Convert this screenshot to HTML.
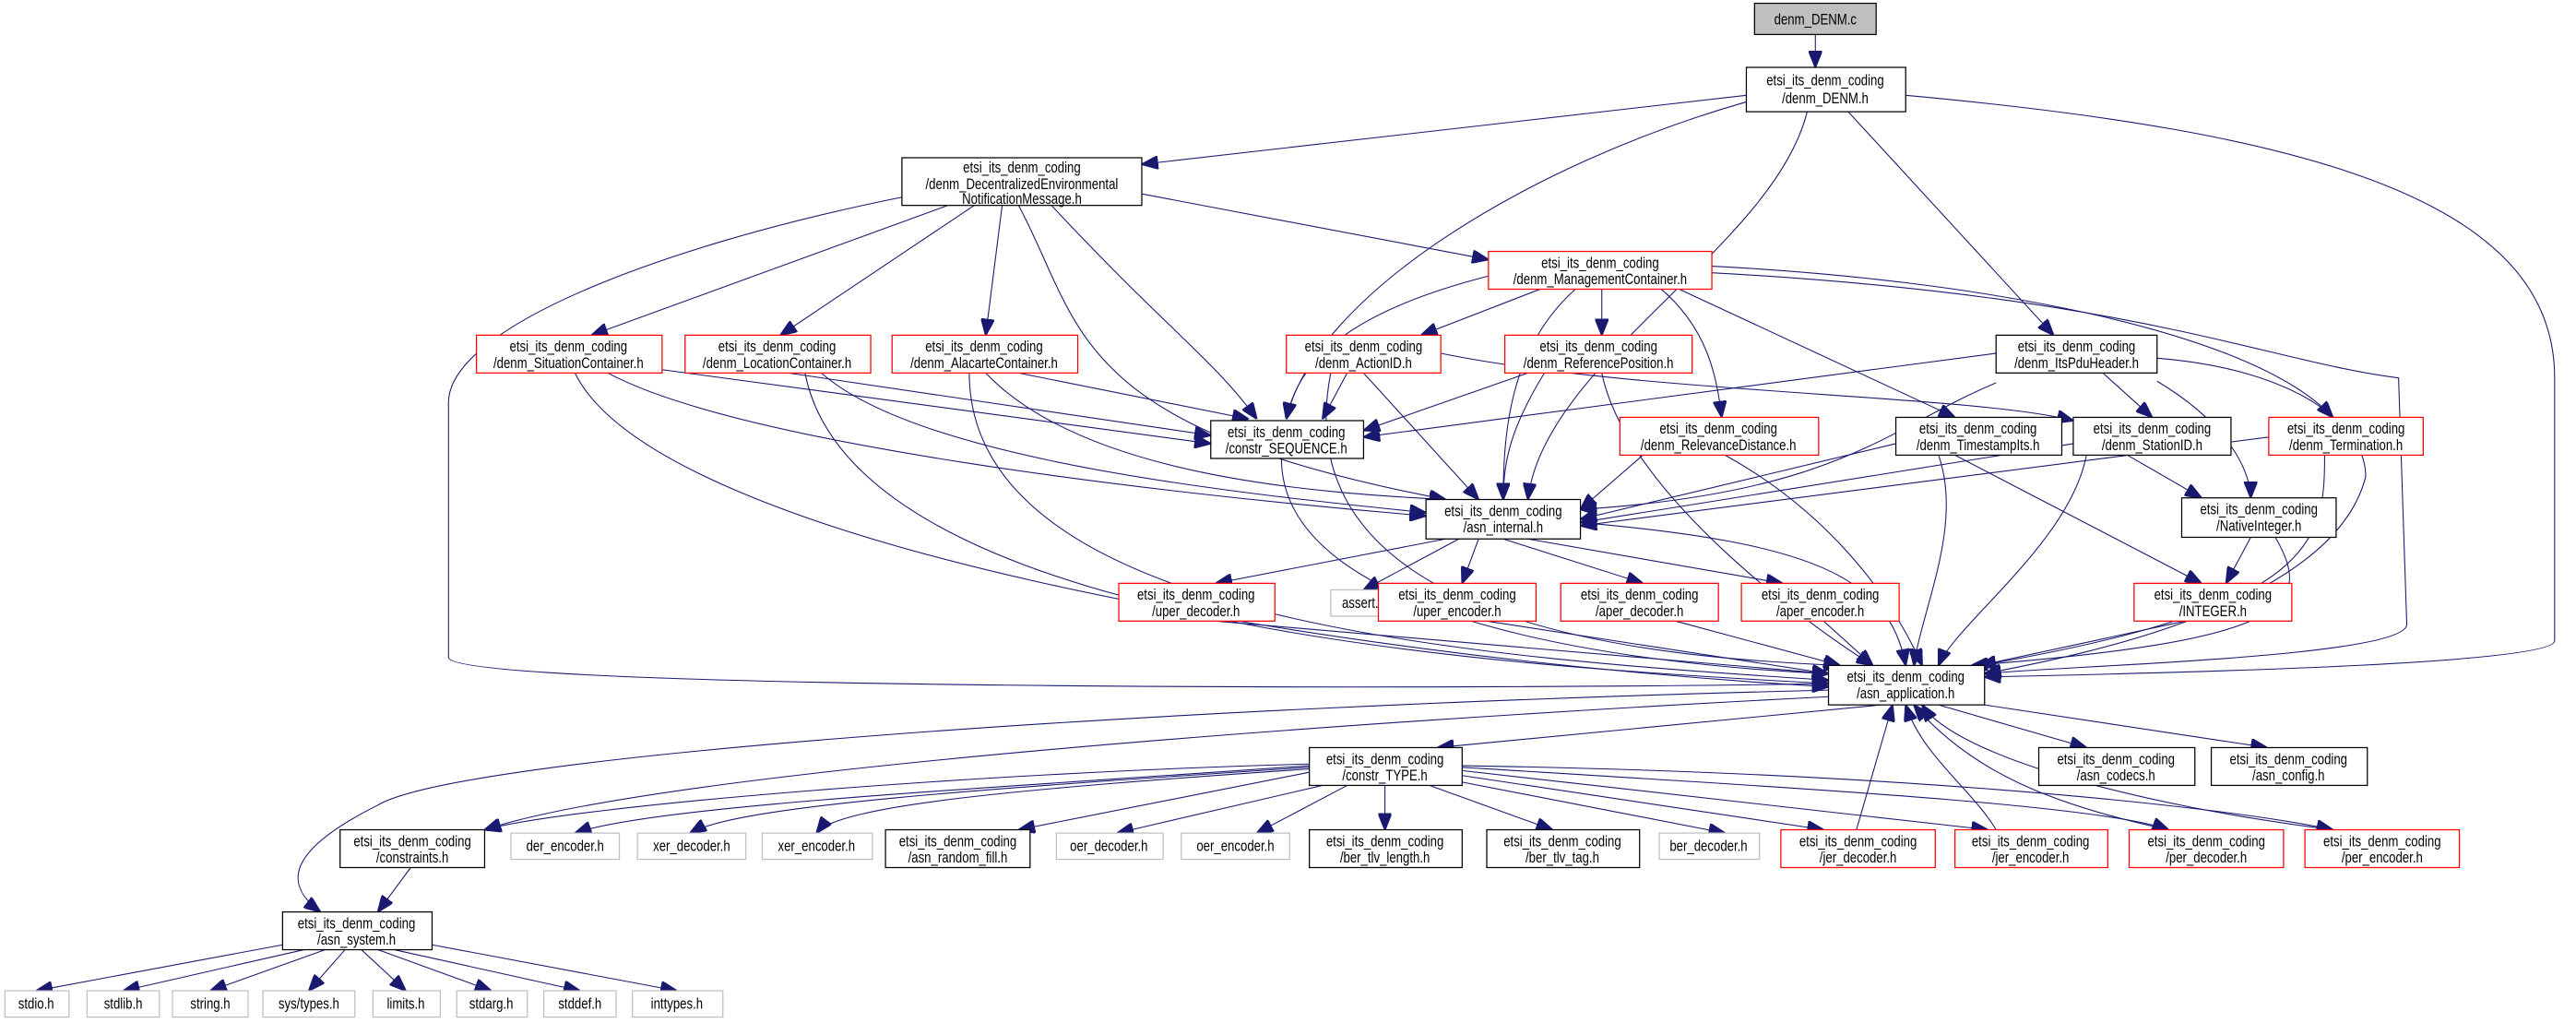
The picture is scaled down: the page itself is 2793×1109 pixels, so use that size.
<!DOCTYPE html>
<html><head><meta charset="utf-8"><style>
html,body{margin:0;padding:0;background:#fff;}
svg{display:block}
text{font-family:"Liberation Sans",sans-serif;font-size:9.5px;fill:#000;text-anchor:middle;transform-box:fill-box;transform-origin:center;transform:scaleX(.78)}
.n{fill:#fff;stroke:#000;stroke-width:.7}
.r{fill:#fff;stroke:#ff0000;stroke-width:.7}
.g{fill:#fff;stroke:#bfbfbf;stroke-width:.7}
.e path{fill:none;stroke:#191970;stroke-width:.6;marker-end:url(#a)}
</style></head><body>
<svg width="2793" height="1109" viewBox="0 0 1568 622.6" xmlns="http://www.w3.org/2000/svg">
<defs><marker id="a" viewBox="0 0 10 8" refX="10" refY="4" markerWidth="10" markerHeight="8" markerUnits="userSpaceOnUse" orient="auto"><path d="M0,0L10,4L0,8z" fill="#191970" stroke="#191970"/></marker></defs>
<g class="e">
<path d="M1105,21L1105,41"/>
<path d="M1063,58L695,100"/>
<path d="M1063,62C930,100 800,180 783,255"/>
<path d="M1100,68C1080,150 940,220 930,304"/>
<path d="M1125,68L1250,204"/>
<path d="M1160,58C1400,80 1555,120 1555,230L1555,390C1555,405 1300,410 1208,412"/>
<path d="M577,125L360,204"/>
<path d="M593,125L475,204"/>
<path d="M610,125L600,204"/>
<path d="M640,125C710,200 740,220 765,255"/>
<path d="M620,125C660,200 650,260 880,304"/>
<path d="M695,118L906,158"/>
<path d="M549,120C400,150 273,200 273,245L273,400C273,420 900,420 1113,416"/>
<path d="M906,168C820,190 790,220 783,255"/>
<path d="M940,175L865,204"/>
<path d="M975,175L975,204"/>
<path d="M960,175C920,210 915,260 915,304"/>
<path d="M1010,175C1040,200 1045,230 1048,254"/>
<path d="M1020,175L1190,254"/>
<path d="M1042,162C1200,170 1370,200 1420,254"/>
<path d="M1042,166C1300,180 1380,220 1460,230L1465,380C1465,400 1260,405 1208,410"/>
<path d="M403,225L737,270"/>
<path d="M370,227C450,270 700,300 868,314"/>
<path d="M350,227C400,330 800,400 1113,418"/>
<path d="M480,227L737,265"/>
<path d="M500,227C560,280 750,300 868,312"/>
<path d="M490,227C520,380 900,405 1113,416"/>
<path d="M620,227L760,255"/>
<path d="M600,227C660,290 800,300 880,304"/>
<path d="M590,227C590,380 900,400 1113,414"/>
<path d="M820,227L805,255"/>
<path d="M830,227L900,304"/>
<path d="M810,227C780,380 1000,400 1120,405"/>
<path d="M877,215C1000,240 1200,240 1262,256"/>
<path d="M930,227L830,262"/>
<path d="M940,227C920,260 915,280 915,304"/>
<path d="M975,227C990,300 1100,380 1140,405"/>
<path d="M1215,215L830,266"/>
<path d="M1215,233C1150,260 1120,300 962,310"/>
<path d="M1280,227L1310,254"/>
<path d="M1313,232C1360,260 1370,290 1370,303"/>
<path d="M1313,218C1400,225 1440,260 1440,290C1420,370 1260,400 1208,410"/>
<path d="M1000,277L962,310"/>
<path d="M1050,277C1110,310 1150,360 1170,405"/>
<path d="M1154,270L962,316"/>
<path d="M1190,277L1340,355"/>
<path d="M1180,277C1195,320 1170,370 1165,405"/>
<path d="M1262,270L962,318"/>
<path d="M1295,277L1340,303"/>
<path d="M1270,277C1260,330 1190,380 1180,405"/>
<path d="M1381,266L962,320"/>
<path d="M1415,277C1415,330 1410,370 1205,405"/>
<path d="M780,279C780,380 1000,405 1113,410"/>
<path d="M880,328L740,355"/>
<path d="M888,328L830,359"/>
<path d="M900,328L890,355"/>
<path d="M915,328L1000,355"/>
<path d="M930,328L1085,355"/>
<path d="M962,318C1100,330 1150,350 1160,405"/>
<path d="M1370,327L1355,355"/>
<path d="M1385,327C1410,370 1390,390 1200,405"/>
<path d="M1330,378L1205,405"/>
<path d="M740,378L1113,410"/>
<path d="M905,378L1113,410"/>
<path d="M1020,378L1120,405"/>
<path d="M1110,378L1140,405"/>
<path d="M1145,429L875,455"/>
<path d="M1180,429L1270,455"/>
<path d="M1208,429L1380,455"/>
<path d="M1113,424C800,440 400,470 295,505"/>
<path d="M1113,420C700,430 280,460 230,490C170,520 175,540 195,555"/>
<path d="M1130,505L1152,429"/>
<path d="M1215,505C1200,480 1170,460 1160,429"/>
<path d="M1320,505C1250,490 1200,470 1165,429"/>
<path d="M1420,505C1300,490 1190,460 1170,429"/>
<path d="M797,465C600,470 350,490 295,505"/>
<path d="M797,466C600,480 400,490 350,507"/>
<path d="M797,467C600,480 450,490 420,507"/>
<path d="M797,468C620,480 510,490 497,507"/>
<path d="M797,470L620,505"/>
<path d="M805,478L680,507"/>
<path d="M820,478L765,507"/>
<path d="M843,478L843,505"/>
<path d="M870,478L945,505"/>
<path d="M890,476L1050,507"/>
<path d="M890,472L1110,505"/>
<path d="M890,469L1210,505"/>
<path d="M890,467C1100,480 1280,490 1320,505"/>
<path d="M890,466C1150,470 1350,490 1420,505"/>
<path d="M250,528L230,555"/>
<path d="M172,575L22,603"/>
<path d="M185,578L75,603"/>
<path d="M198,578L128,603"/>
<path d="M210,578L188,603"/>
<path d="M220,578L247,603"/>
<path d="M230,578L299,603"/>
<path d="M240,578L353,603"/>
<path d="M263,575L412,603"/>
</g>
<g>
<rect x="1068" y="2" width="74" height="19" fill="#bfbfbf" stroke="#000" stroke-width=".7"/><text x="1105" y="15">denm_DENM.c</text>
<rect class="n" x="1063" y="41" width="97" height="27"/><text x="1111" y="52">etsi_its_denm_coding</text><text x="1111" y="63">/denm_DENM.h</text>
<rect class="n" x="549" y="96" width="146" height="29"/><text x="622" y="105">etsi_its_denm_coding</text><text x="622" y="115">/denm_DecentralizedEnvironmental</text><text x="622" y="124">NotificationMessage.h</text>
<rect class="r" x="906" y="153" width="136" height="23"/><text x="974" y="163">etsi_its_denm_coding</text><text x="974" y="173">/denm_ManagementContainer.h</text>
<rect class="r" x="290" y="204" width="113" height="23"/><text x="346" y="214">etsi_its_denm_coding</text><text x="346" y="224">/denm_SituationContainer.h</text>
<rect class="r" x="417" y="204" width="113" height="23"/><text x="473" y="214">etsi_its_denm_coding</text><text x="473" y="224">/denm_LocationContainer.h</text>
<rect class="r" x="543" y="204" width="113" height="23"/><text x="599" y="214">etsi_its_denm_coding</text><text x="599" y="224">/denm_AlacarteContainer.h</text>
<rect class="r" x="783" y="204" width="94" height="23"/><text x="830" y="214">etsi_its_denm_coding</text><text x="830" y="224">/denm_ActionID.h</text>
<rect class="r" x="916" y="204" width="114" height="23"/><text x="973" y="214">etsi_its_denm_coding</text><text x="973" y="224">/denm_ReferencePosition.h</text>
<rect class="n" x="1215" y="204" width="98" height="23"/><text x="1264" y="214">etsi_its_denm_coding</text><text x="1264" y="224">/denm_ItsPduHeader.h</text>
<rect class="n" x="737" y="256" width="93" height="23"/><text x="783" y="266">etsi_its_denm_coding</text><text x="783" y="276">/constr_SEQUENCE.h</text>
<rect class="r" x="986" y="254" width="121" height="23"/><text x="1046" y="264">etsi_its_denm_coding</text><text x="1046" y="274">/denm_RelevanceDistance.h</text>
<rect class="n" x="1154" y="254" width="101" height="23"/><text x="1204" y="264">etsi_its_denm_coding</text><text x="1204" y="274">/denm_TimestampIts.h</text>
<rect class="n" x="1262" y="254" width="96" height="23"/><text x="1310" y="264">etsi_its_denm_coding</text><text x="1310" y="274">/denm_StationID.h</text>
<rect class="r" x="1381" y="254" width="94" height="23"/><text x="1428" y="264">etsi_its_denm_coding</text><text x="1428" y="274">/denm_Termination.h</text>
<rect class="n" x="868" y="304" width="94" height="24"/><text x="915" y="314">etsi_its_denm_coding</text><text x="915" y="324">/asn_internal.h</text>
<rect class="n" x="1328" y="303" width="94" height="24"/><text x="1375" y="313">etsi_its_denm_coding</text><text x="1375" y="323">/NativeInteger.h</text>
<rect class="r" x="681" y="355" width="95" height="23"/><text x="728" y="365">etsi_its_denm_coding</text><text x="728" y="375">/uper_decoder.h</text>
<rect class="g" x="810" y="359" width="40" height="16"/><text x="830" y="370">assert.h</text>
<rect class="r" x="839" y="355" width="96" height="23"/><text x="887" y="365">etsi_its_denm_coding</text><text x="887" y="375">/uper_encoder.h</text>
<rect class="r" x="950" y="355" width="96" height="23"/><text x="998" y="365">etsi_its_denm_coding</text><text x="998" y="375">/aper_decoder.h</text>
<rect class="r" x="1060" y="355" width="96" height="23"/><text x="1108" y="365">etsi_its_denm_coding</text><text x="1108" y="375">/aper_encoder.h</text>
<rect class="r" x="1299" y="355" width="96" height="23"/><text x="1347" y="365">etsi_its_denm_coding</text><text x="1347" y="375">/INTEGER.h</text>
<rect class="n" x="1113" y="405" width="95" height="24"/><text x="1160" y="415">etsi_its_denm_coding</text><text x="1160" y="425">/asn_application.h</text>
<rect class="n" x="797" y="455" width="93" height="23"/><text x="843" y="465">etsi_its_denm_coding</text><text x="843" y="475">/constr_TYPE.h</text>
<rect class="n" x="1241" y="455" width="95" height="23"/><text x="1288" y="465">etsi_its_denm_coding</text><text x="1288" y="475">/asn_codecs.h</text>
<rect class="n" x="1346" y="455" width="95" height="23"/><text x="1393" y="465">etsi_its_denm_coding</text><text x="1393" y="475">/asn_config.h</text>
<rect class="n" x="207" y="505" width="88" height="23"/><text x="251" y="515">etsi_its_denm_coding</text><text x="251" y="525">/constraints.h</text>
<rect class="g" x="311" y="507" width="66" height="16"/><text x="344" y="518">der_encoder.h</text>
<rect class="g" x="388" y="507" width="66" height="16"/><text x="421" y="518">xer_decoder.h</text>
<rect class="g" x="464" y="507" width="67" height="16"/><text x="497" y="518">xer_encoder.h</text>
<rect class="n" x="539" y="505" width="88" height="23"/><text x="583" y="515">etsi_its_denm_coding</text><text x="583" y="525">/asn_random_fill.h</text>
<rect class="g" x="643" y="507" width="65" height="16"/><text x="675" y="518">oer_decoder.h</text>
<rect class="g" x="719" y="507" width="66" height="16"/><text x="752" y="518">oer_encoder.h</text>
<rect class="n" x="797" y="505" width="93" height="23"/><text x="843" y="515">etsi_its_denm_coding</text><text x="843" y="525">/ber_tlv_length.h</text>
<rect class="n" x="905" y="505" width="93" height="23"/><text x="951" y="515">etsi_its_denm_coding</text><text x="951" y="525">/ber_tlv_tag.h</text>
<rect class="g" x="1010" y="507" width="61" height="16"/><text x="1040" y="518">ber_decoder.h</text>
<rect class="r" x="1084" y="505" width="94" height="23"/><text x="1131" y="515">etsi_its_denm_coding</text><text x="1131" y="525">/jer_decoder.h</text>
<rect class="r" x="1190" y="505" width="93" height="23"/><text x="1236" y="515">etsi_its_denm_coding</text><text x="1236" y="525">/jer_encoder.h</text>
<rect class="r" x="1296" y="505" width="94" height="23"/><text x="1343" y="515">etsi_its_denm_coding</text><text x="1343" y="525">/per_decoder.h</text>
<rect class="r" x="1403" y="505" width="94" height="23"/><text x="1450" y="515">etsi_its_denm_coding</text><text x="1450" y="525">/per_encoder.h</text>
<rect class="n" x="172" y="555" width="91" height="23"/><text x="217" y="565">etsi_its_denm_coding</text><text x="217" y="575">/asn_system.h</text>
<rect class="g" x="3" y="603" width="39" height="16"/><text x="22" y="614">stdio.h</text>
<rect class="g" x="53" y="603" width="44" height="16"/><text x="75" y="614">stdlib.h</text>
<rect class="g" x="105" y="603" width="46" height="16"/><text x="128" y="614">string.h</text>
<rect class="g" x="160" y="603" width="56" height="16"/><text x="188" y="614">sys/types.h</text>
<rect class="g" x="227" y="603" width="41" height="16"/><text x="247" y="614">limits.h</text>
<rect class="g" x="278" y="603" width="43" height="16"/><text x="299" y="614">stdarg.h</text>
<rect class="g" x="331" y="603" width="44" height="16"/><text x="353" y="614">stddef.h</text>
<rect class="g" x="385" y="603" width="55" height="16"/><text x="412" y="614">inttypes.h</text>
</g>
</svg>
</body></html>
